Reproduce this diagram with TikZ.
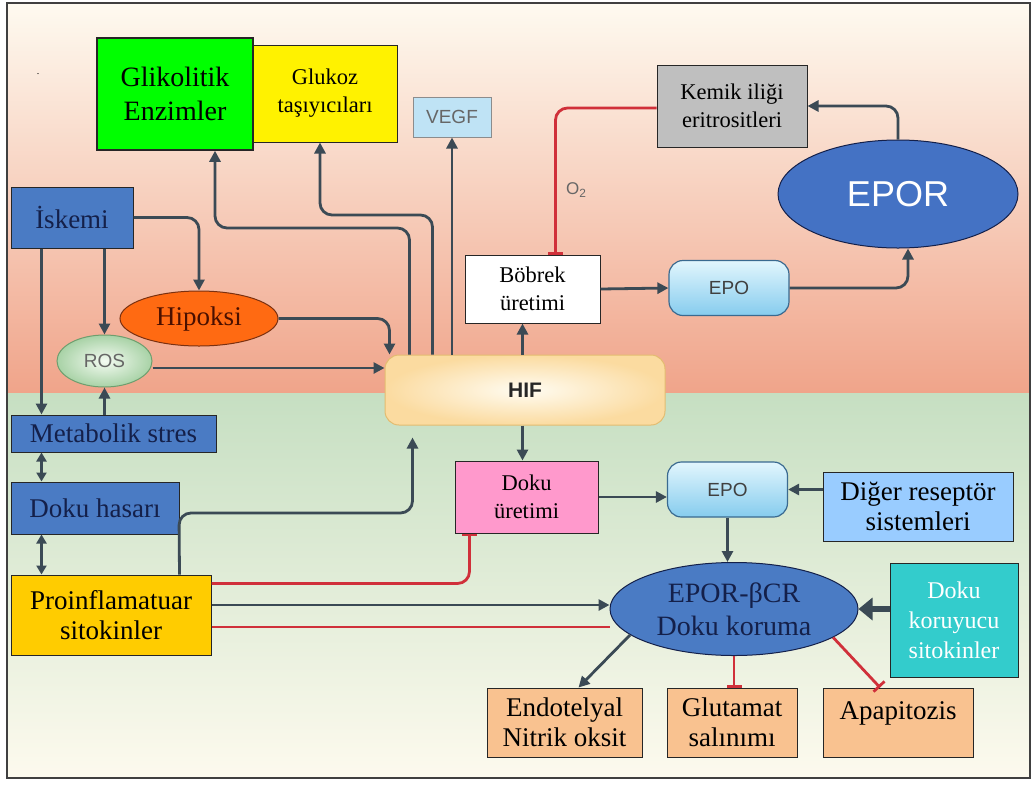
\documentclass[tikz,border=0pt]{standalone}
\usepackage{fontspec}
\setmainfont{Liberation Serif}
\setsansfont{Liberation Sans}
\usetikzlibrary{arrows.meta,shapes.geometric,calc}
\definecolor{linec}{HTML}{3B4A55}
\definecolor{inhred}{HTML}{D0303A}
\definecolor{bluefill}{HTML}{4A7BC4}
\definecolor{navytxt}{HTML}{14204A}
\definecolor{bgtop}{HTML}{FEFAF0}
\definecolor{bgmid}{HTML}{F8CDB6}
\definecolor{bgbot}{HTML}{F0A48A}
\definecolor{grtop}{HTML}{C6DFC2}
\definecolor{grbot}{HTML}{FDFAEE}
\definecolor{peach}{HTML}{F9C290}
\definecolor{epotop}{HTML}{E2F6FD}
\definecolor{epobot}{HTML}{86CCEE}
\definecolor{epodraw}{HTML}{3A6A90}
\definecolor{vegffill}{HTML}{BFE3F5}
\definecolor{eporfill}{HTML}{4472C4}
\definecolor{hipdraw}{HTML}{7A3010}
\definecolor{hipfill}{HTML}{FF6A12}
\definecolor{hiptxt}{HTML}{4A1000}
\definecolor{rosdraw}{HTML}{6E9E6E}
\definecolor{rosin}{HTML}{F4FBF2}
\definecolor{rosout}{HTML}{A8D2A6}
\definecolor{gold}{HTML}{FFCC00}
\definecolor{hifdraw}{HTML}{E3BC70}
\definecolor{hifin}{HTML}{FFFCF2}
\definecolor{hifout}{HTML}{FBDBA0}
\definecolor{pinkfill}{HTML}{FF99CC}
\definecolor{digfill}{HTML}{99CCFF}
\definecolor{teal}{HTML}{33CCCC}

\begin{document}
\begin{tikzpicture}[
  x=1pt, y=-1pt,
  box/.style   = {draw=black!85, line width=1pt, align=center, inner sep=0pt},
  blubox/.style= {box, fill=bluefill, text=navytxt},
  oval/.style  = {ellipse, draw, line width=1pt, align=center, inner sep=0pt},
  big/.style   = {font=\fontsize{27}{30}\selectfont},
  mid/.style   = {font=\fontsize{22.5}{28}\selectfont},
  sans/.style  = {font=\sffamily\fontsize{19}{21}\selectfont},
  epobox/.style= {draw=epodraw, line width=1.2pt, rounded corners=14pt,
                  top color=epotop, bottom color=epobot,
                  minimum width=120pt, minimum height=55pt, sans, text=black!75},
  arr/.style   = {draw=linec, line width=2.8pt, rounded corners=12pt,
                  -{Triangle[length=11pt,width=11pt]}},
  darr/.style  = {draw=linec, line width=2.8pt,
                  {Triangle[length=9pt,width=10pt]}-{Triangle[length=9pt,width=10pt]}},
  inh/.style   = {draw=inhred, line width=2.8pt, rounded corners=12pt,
                  -{Bar[width=15pt]}},
]

% ---- background ----
\useasboundingbox (0,0) rectangle (1033,785);
\fill[white] (0,0) rectangle (1033,785);
\shade[top color=bgtop, middle color=bgmid, bottom color=bgbot] (7,3) rectangle (1030,393);
\shade[top color=grtop, bottom color=grbot] (7,393) rectangle (1030,778);
\draw[black!75, line width=1.5pt] (7,3) rectangle (1030,778);
\node (dot) at (38,74) {.};

% ---- top row ----
\node[box, fill=yellow, mid, minimum width=144pt, minimum height=97pt] (glu) at (325,93.5)
      {Glukoz\\taşıyıcıları};
\node[box, fill=green, line width=1.5pt, font=\fontsize{28}{34}\selectfont,
      minimum width=156pt, minimum height=112pt] (gli) at (175,94) {Glikolitik\\Enzimler};
\node[box, draw=black!45, fill=vegffill, sans, text=black!60,
      minimum width=78pt, minimum height=40pt] (vegf) at (452,117) {VEGF};
\node[box, fill=black!25, mid, minimum width=150pt, minimum height=82pt] (kem) at (732,106)
      {Kemik iliği\\eritrositleri};
\node[oval, draw=navytxt, fill=eporfill, text=white, font=\sffamily\fontsize{36}{38}\selectfont,
      minimum width=240pt, minimum height=108pt] (epor) at (898,194) {EPOR};

% ---- left column ----
\node[blubox, big, minimum width=122pt, minimum height=61pt] (isk) at (72,217.5) {İskemi};
\node[oval, draw=hipdraw, fill=hipfill, big, text=hiptxt,
      minimum width=158pt, minimum height=55pt] (hip) at (199,318.5) {Hipoksi};
\node[oval, draw=rosdraw, inner color=rosin, outer color=rosout, sans, text=black!60,
      minimum width=95pt, minimum height=52pt] (ros) at (104.5,361) {ROS};
\node[blubox, big, minimum width=205pt, minimum height=37pt] (met) at (113.5,433.5) {Metabolik stres};
\node[blubox, big, minimum width=168pt, minimum height=52pt] (has) at (95,508) {Doku hasarı};
\node[box, fill=gold, big, minimum width=200pt, minimum height=80pt] (pro) at (111,615)
      {Proinflamatuar\\sitokinler};

% ---- centre ----
\node[box, draw=hifdraw, rounded corners=14pt, inner color=hifin, outer color=hifout,
      font=\sffamily\bfseries\fontsize{21}{23}\selectfont, text=black!85,
      minimum width=280pt, minimum height=70pt] (hif) at (525,390) {HIF};
\node[box, fill=white, mid, minimum width=135pt, minimum height=68pt] (bob) at (532.5,289) {Böbrek\\üretimi};
\node[epobox] (epo1) at (729,288) {EPO};
\node[box, fill=pinkfill, mid, minimum width=143pt, minimum height=72pt] (dok) at (526.5,497)
      {Doku\\üretimi};
\node[epobox] (epo2) at (727.5,489.5) {EPO};
\node[box, fill=digfill, big, minimum width=190pt, minimum height=69pt] (dig) at (918,506.5)
      {Diğer reseptör\\sistemleri};
\node[oval, draw=navytxt, fill=bluefill, text=navytxt, font=\fontsize{28}{33}\selectfont,
      minimum width=248pt, minimum height=93pt] (ebcr) at (734,609) {EPOR-βCR\\Doku koruma};
\node[box, fill=teal, text=white, font=\fontsize{24}{30}\selectfont,
      minimum width=128pt, minimum height=114pt] (kor) at (954,620) {Doku\\koruyucu\\sitokinler};

% ---- bottom row ----
\node[box, fill=peach, big, minimum width=155pt, minimum height=69pt] (endo) at (564.5,722.5)
      {Endotelyal\\Nitrik oksit};
\node[box, fill=peach, big, minimum width=130pt, minimum height=69pt] (glt) at (732,722.5)
      {Glutamat\\salınımı};
\node[box, fill=peach, big, minimum width=150pt, minimum height=69pt] (apa) at (898,722.5)
      {Apapitozis\\[-6pt]\mbox{}};

% ---- arrows ----
\draw[arr] (isk.east) -| (hip.north);
\draw[arr] ([xshift=31pt]isk.south west) -- ([xshift=31pt]met.north west);
\draw[arr] (isk.south -| ros.north) -- (ros.north);
\draw[arr] (met.north -| ros.south) -- (ros.south);
\draw[darr] ([xshift=31pt]met.south west) -- ([xshift=31pt]has.north west);
\draw[darr] ([xshift=31pt]has.south west) -- ([xshift=31pt]pro.north west);

\draw[arr] (hip.east) -| ([xshift=5pt]hif.north west);
\draw[arr] ([yshift=-7pt]ros.east) -- ([yshift=-7pt]ros.east -| hif.west);

\draw[arr] ([xshift=25pt]hif.north west) |- (215,228) -- ([xshift=40pt]gli.south);
\draw[arr] ([xshift=48pt]hif.north west) |- (320,215) -- ([xshift=-5pt]glu.south);
\draw[arr] (hif.north -| vegf.south) -- (vegf.south);
\draw[arr] ([xshift=-10pt]hif.north -| bob.south) -- ([xshift=-10pt]bob.south);

\draw[arr] (bob.east) -- (epo1.west);
\draw[arr] (epo1.east) -| ([xshift=10pt]epor.south);
\draw[arr] (epor.north) |- (kem.east);
\draw[inh] ([yshift=-2pt]kem.west) -| ([xshift=23pt]bob.north)
  node[pos=0.78, right=6pt, font=\sffamily\fontsize{17}{19}\selectfont, text=black!60] {O\textsubscript{2}};

\draw[arr] ([xshift=-4pt]hif.south -| dok.north) -- ([xshift=-4pt]dok.north);
\draw[arr] (dok.east) -- (dok.east -| epo2.west);
\draw[arr] (dig.west |- epo2.east) -- (epo2.east);
\draw[arr] (epo2.south) -- (epo2.south |- ebcr.north);
\draw[draw=linec, line width=6pt, -{Triangle[length=14pt,width=22pt]}] (kor.west |- ebcr.east) -- (ebcr.east);

\draw[arr, shorten >=12pt] (pro.north -| has.east) -- (179,513) -| ([xshift=28pt]hif.south west);
\draw[inh] ([yshift=-9pt]pro.north east) -| ([xshift=15pt]dok.south west);
\draw[arr] ([yshift=10pt]pro.east) -- ([yshift=10pt]pro.east -| ebcr.west);
\draw[draw=inhred, line width=2.8pt] ([yshift=-12pt]pro.east) -- ([yshift=-12pt]pro.east -| ebcr.west);

\draw[arr] (ebcr.194) -- ([xshift=14pt]endo.north);
\draw[inh] (ebcr.south) -- (ebcr.south |- glt.north);
\draw[inh] (ebcr.344) -- ([xshift=-18pt]apa.north);

\end{tikzpicture}
\end{document}
